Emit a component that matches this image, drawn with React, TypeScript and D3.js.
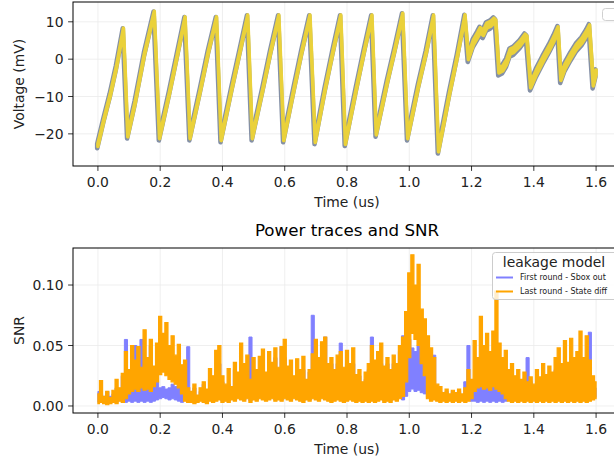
import React from 'react';
import * as d3 from 'd3';

// ---------- Top panel: voltage trace (vertices of the sawtooth) ----------
const traceTime = [
  0.000, 0.020, 0.040, 0.060, 0.082, 0.096, 0.120, 0.150, 0.181, 0.198,
  0.230, 0.255, 0.280, 0.296, 0.330, 0.355, 0.381, 0.396, 0.430, 0.455,
  0.481, 0.496, 0.530, 0.555, 0.581, 0.597, 0.630, 0.655, 0.681, 0.698,
  0.730, 0.755, 0.780, 0.795, 0.830, 0.855, 0.880, 0.894, 0.930, 0.955,
  0.979, 0.995, 1.030, 1.055, 1.078, 1.094, 1.130, 1.155, 1.179, 1.190,
  1.206, 1.220, 1.228, 1.238, 1.249, 1.262, 1.272, 1.278, 1.288, 1.300,
  1.313, 1.324, 1.336, 1.356, 1.372, 1.378, 1.390, 1.409, 1.430, 1.450,
  1.465, 1.478, 1.487, 1.500, 1.520, 1.537, 1.555, 1.570, 1.579, 1.591,
  1.600,
];
const traceVolt = [
  -23.0, -16.0, -9.5, -2.0, 8.0, -20.5, -11.5, 1.5, 12.5, -21.0,
  -9.0, 1.0, 11.0, -21.0, -8.0, 2.0, 11.0, -21.5, -8.0, 1.5,
  11.5, -21.0, -8.0, 2.0, 11.5, -21.5, -8.0, 2.0, 11.5, -22.0,
  -8.0, 2.0, 11.5, -22.5, -8.0, 2.0, 11.5, -20.0, -6.0, 3.0,
  12.0, -21.0, -7.0, 2.0, 11.5, -24.5, -9.0, 1.0, 11.5, 0.5,
  4.5, 6.5, 7.8, 7.0, 9.0, 9.5, 10.3, 9.8, -3.0, -2.5,
  -0.7, 2.0, 2.5, 4.2, 6.0, 5.5, -7.0, -3.4, 0.0, 3.0,
  5.5, 8.0, -5.0, -2.0, 1.0, 3.3, 5.0, 7.0, 8.5, -6.5,
  -3.5,
];
const traceSpread = [
  0.6, 0.5, 0.5, 0.5, 0.5, 0.5, 0.5, 0.5, 0.5, 0.5,
  0.5, 0.5, 0.5, 0.5, 0.5, 0.5, 0.5, 0.5, 0.5, 0.5,
  0.5, 0.5, 0.5, 0.5, 0.5, 0.5, 0.5, 0.5, 0.5, 0.5,
  0.5, 0.5, 0.5, 0.5, 0.5, 0.5, 0.5, 0.5, 0.5, 0.5,
  0.5, 0.5, 0.5, 0.5, 0.5, 0.5, 0.5, 0.5, 0.6, 1.0,
  1.1, 1.1, 1.1, 1.1, 1.1, 1.1, 1.1, 1.1, 1.1, 1.1,
  1.1, 1.1, 1.1, 1.1, 1.1, 1.1, 1.1, 1.1, 1.1, 1.1,
  1.1, 1.1, 1.1, 1.1, 1.1, 1.1, 1.1, 1.1, 1.1, 1.1,
  1.0,
];

const xTicks = [0, 0.2, 0.4, 0.6, 0.8, 1.0, 1.2, 1.4, 1.6];
const voltTicks = [-20, -10, 0, 10];
const snrTicks = [0, 0.05, 0.1];

// ---------- Bottom panel: SNR, per-bin min / max (bins of 0.01 us) ----------
const snrStart = 0;
const snrStep = 0.01;
const orangeMax = [
  0.010, 0.021, 0.008, 0.012, 0.007, 0.013, 0.022, 0.015, 0.027, 0.045,
  0.030, 0.050, 0.038, 0.049, 0.032, 0.063, 0.040, 0.055, 0.033, 0.052,
  0.074, 0.060, 0.069, 0.050, 0.058, 0.042, 0.051, 0.034, 0.038, 0.015,
  0.012, 0.018, 0.009, 0.015, 0.020, 0.014, 0.031, 0.025, 0.046, 0.050,
  0.025, 0.018, 0.031, 0.016, 0.036, 0.028, 0.052, 0.035, 0.042, 0.022,
  0.040, 0.030, 0.041, 0.047, 0.028, 0.045, 0.036, 0.048, 0.032, 0.049,
  0.055, 0.033, 0.038, 0.025, 0.039, 0.030, 0.041, 0.022, 0.030, 0.043,
  0.055, 0.040, 0.053, 0.057, 0.035, 0.040, 0.030, 0.042, 0.045, 0.032,
  0.046, 0.035, 0.048, 0.026, 0.030, 0.020, 0.028, 0.035, 0.050, 0.038,
  0.045, 0.052, 0.033, 0.040, 0.030, 0.042, 0.035, 0.050, 0.057, 0.078,
  0.110, 0.125, 0.100, 0.117, 0.080, 0.072, 0.058, 0.048, 0.040, 0.018,
  0.016, 0.011, 0.014, 0.010, 0.013, 0.011, 0.014, 0.010, 0.015, 0.030,
  0.022, 0.054, 0.040, 0.074, 0.050, 0.060, 0.045, 0.062, 0.095, 0.052,
  0.040, 0.046, 0.030, 0.035, 0.025, 0.030, 0.022, 0.028, 0.020, 0.024,
  0.018, 0.030, 0.024, 0.035, 0.026, 0.033, 0.028, 0.040, 0.048, 0.035,
  0.054, 0.036, 0.056, 0.040, 0.045, 0.062, 0.040, 0.058, 0.038, 0.025,
  0.020,
];
const orangeMin = [
  0.002, 0.003, 0.002, 0.001, 0.002, 0.003, 0.002, 0.004, 0.003, 0.006,
  0.010, 0.012, 0.014, 0.012, 0.015, 0.013, 0.014, 0.012, 0.016, 0.020,
  0.026, 0.028, 0.025, 0.022, 0.020, 0.018, 0.015, 0.010, 0.004, 0.003,
  0.003, 0.002, 0.003, 0.004, 0.003, 0.002, 0.004, 0.003, 0.004, 0.005,
  0.003, 0.004, 0.003, 0.005, 0.004, 0.006, 0.005, 0.004, 0.006, 0.003,
  0.005, 0.004, 0.006, 0.005, 0.004, 0.005, 0.006, 0.004, 0.005, 0.004,
  0.006, 0.005, 0.004, 0.006, 0.005, 0.004, 0.003, 0.005, 0.004, 0.006,
  0.005, 0.004, 0.006, 0.005, 0.004, 0.003, 0.004, 0.005, 0.004, 0.003,
  0.004, 0.005, 0.004, 0.003, 0.004, 0.003, 0.004, 0.003, 0.004, 0.003,
  0.004, 0.005, 0.003, 0.004, 0.003, 0.005, 0.004, 0.006, 0.008, 0.020,
  0.040, 0.060, 0.055, 0.050, 0.035, 0.025, 0.006, 0.004, 0.005, 0.004,
  0.003, 0.004, 0.003, 0.004, 0.003, 0.004, 0.003, 0.004, 0.003, 0.004,
  0.006, 0.012, 0.015, 0.016, 0.014, 0.015, 0.013, 0.016, 0.014, 0.012,
  0.010, 0.006, 0.004, 0.003, 0.004, 0.003, 0.004, 0.003, 0.004, 0.003,
  0.004, 0.003, 0.004, 0.003, 0.004, 0.003, 0.004, 0.003, 0.004, 0.003,
  0.004, 0.003, 0.004, 0.003, 0.004, 0.003, 0.004, 0.003, 0.004, 0.005,
  0.006,
];
const blueMax = [
  0.012, 0.010, 0.008, 0.012, 0.008, 0.010, 0.015, 0.012, 0.025, 0.055,
  0.025, 0.035, 0.050, 0.030, 0.055, 0.035, 0.028, 0.050, 0.030, 0.020,
  0.015, 0.016, 0.014, 0.015, 0.018, 0.016, 0.020, 0.025, 0.030, 0.049,
  0.012, 0.015, 0.008, 0.012, 0.018, 0.012, 0.022, 0.020, 0.030, 0.035,
  0.020, 0.015, 0.018, 0.014, 0.030, 0.025, 0.030, 0.028, 0.030, 0.057,
  0.030, 0.025, 0.030, 0.035, 0.025, 0.035, 0.030, 0.040, 0.028, 0.049,
  0.040, 0.030, 0.030, 0.020, 0.030, 0.025, 0.030, 0.020, 0.028, 0.075,
  0.040, 0.035, 0.045, 0.057, 0.030, 0.035, 0.028, 0.035, 0.052, 0.030,
  0.035, 0.030, 0.035, 0.022, 0.025, 0.018, 0.022, 0.030, 0.057, 0.035,
  0.030, 0.035, 0.030, 0.035, 0.028, 0.035, 0.030, 0.045, 0.058, 0.050,
  0.055, 0.048, 0.045, 0.050, 0.040, 0.038, 0.035, 0.030, 0.042, 0.015,
  0.012, 0.010, 0.012, 0.009, 0.012, 0.010, 0.012, 0.009, 0.020, 0.050,
  0.020, 0.020, 0.018, 0.020, 0.018, 0.020, 0.022, 0.020, 0.025, 0.020,
  0.018, 0.015, 0.018, 0.015, 0.018, 0.015, 0.020, 0.018, 0.040, 0.020,
  0.015, 0.018, 0.015, 0.020, 0.018, 0.020, 0.025, 0.030, 0.025, 0.030,
  0.025, 0.028, 0.030, 0.025, 0.030, 0.035, 0.030, 0.040, 0.061, 0.022,
  0.015,
];
const blueMin = [
  0.003, 0.004, 0.003, 0.002, 0.003, 0.004, 0.003, 0.005, 0.004, 0.003,
  0.004, 0.003, 0.004, 0.003, 0.004, 0.003, 0.004, 0.003, 0.004, 0.005,
  0.006, 0.007, 0.006, 0.005, 0.006, 0.005, 0.004, 0.003, 0.005, 0.004,
  0.004, 0.003, 0.004, 0.005, 0.004, 0.003, 0.005, 0.004, 0.005, 0.006,
  0.004, 0.005, 0.004, 0.006, 0.005, 0.007, 0.006, 0.005, 0.007, 0.004,
  0.006, 0.005, 0.007, 0.006, 0.005, 0.006, 0.007, 0.005, 0.006, 0.005,
  0.007, 0.006, 0.005, 0.007, 0.006, 0.005, 0.004, 0.006, 0.005, 0.007,
  0.006, 0.005, 0.007, 0.006, 0.005, 0.004, 0.005, 0.006, 0.005, 0.004,
  0.005, 0.006, 0.005, 0.004, 0.005, 0.004, 0.005, 0.004, 0.005, 0.004,
  0.005, 0.006, 0.004, 0.005, 0.004, 0.006, 0.005, 0.007, 0.005, 0.008,
  0.012, 0.014, 0.012, 0.013, 0.011, 0.010, 0.007, 0.005, 0.006, 0.005,
  0.004, 0.005, 0.004, 0.005, 0.004, 0.005, 0.004, 0.005, 0.004, 0.005,
  0.004, 0.004, 0.003, 0.004, 0.003, 0.004, 0.003, 0.004, 0.003, 0.004,
  0.003, 0.004, 0.005, 0.004, 0.005, 0.004, 0.005, 0.004, 0.005, 0.004,
  0.005, 0.004, 0.005, 0.004, 0.005, 0.004, 0.005, 0.004, 0.005, 0.004,
  0.005, 0.004, 0.005, 0.004, 0.005, 0.004, 0.005, 0.004, 0.005, 0.006,
  0.007,
];

const legendTitle = 'leakage model';
const seriesNames = ['First round - Sbox out', 'Last round - State diff'];
const seriesColors = ['#8080ff', '#ffa500'];

const FONT = 'DejaVu Sans, sans-serif';
const W = 614;
const H = 459;

const x = d3.scaleLinear().domain([-0.08, 1.68]).range([73, 621]);
const yV = d3.scaleLinear().domain([-28.6, 15.3]).range([166, 2]);
const yS = d3.scaleLinear().domain([-0.0058, 0.1306]).range([413, 248]);

const fmtX = (v: number) => v.toFixed(1);
const fmtV = (v: number) => (v < 0 ? '\u2212' + Math.abs(v) : String(v));
const fmtS = (v: number) => v.toFixed(2);

type Pt = { t: number; v: number; s: number };

function Grid({ y, top, bottom, yTicks }: any) {
  const left = 73;
  const right = 621;
  return (
    <g>
      {xTicks.map((t) => (
        <line key={'gx' + t} x1={x(t)} x2={x(t)} y1={top} y2={bottom} stroke="#ebebeb" strokeWidth={0.8} />
      ))}
      {yTicks.map((v: number) => (
        <line key={'gy' + v} x1={left} x2={right} y1={y(v)} y2={y(v)} stroke="#ebebeb" strokeWidth={0.8} />
      ))}
    </g>
  );
}

function Frame({ y, top, bottom, yTicks, fmtY, ylabel }: any) {
  const left = 73;
  const right = 621;
  return (
    <g fontFamily={FONT} fill="#000">
      <rect x={left} y={top} width={right - left} height={bottom - top} fill="none" stroke="#000" strokeWidth={1} />
      {xTicks.map((t) => (
        <g key={'tx' + t}>
          <line x1={x(t)} x2={x(t)} y1={bottom} y2={bottom + 4.9} stroke="#000" strokeWidth={0.8} />
          <text x={x(t)} y={bottom + 20.5} fontSize={13.9} textAnchor="middle" fill="#222">
            {fmtX(t)}
          </text>
        </g>
      ))}
      {yTicks.map((v: number) => (
        <g key={'ty' + v}>
          <line x1={left - 4.9} x2={left} y1={y(v)} y2={y(v)} stroke="#000" strokeWidth={0.8} />
          <text x={left - 9.5} y={y(v) + 5} fontSize={13.9} textAnchor="end" fill="#222">
            {fmtY(v)}
          </text>
        </g>
      ))}
      <text x={347} y={bottom + 41} fontSize={13.9} textAnchor="middle" fill="#222">
        Time (us)
      </text>
      <text
        transform={`translate(24,${(top + bottom) / 2}) rotate(-90)`}
        fontSize={13.9}
        textAnchor="middle"
        fill="#222"
      >
        {ylabel}
      </text>
    </g>
  );
}

export default function App() {
  const pts: Pt[] = traceTime.map((t, i) => ({ t, v: traceVolt[i], s: traceSpread[i] }));
  const bandOuter = d3
    .area<Pt>()
    .x((d) => x(d.t))
    .y0((d) => yV(d.v - d.s))
    .y1((d) => yV(d.v + d.s));
  const bandInner = d3
    .area<Pt>()
    .x((d) => x(d.t))
    .y0((d) => yV(d.v - d.s * 0.6))
    .y1((d) => yV(d.v + d.s * 0.6));

  const snrArea = (mins: number[], maxs: number[]) =>
    d3
      .area<number>()
      .curve(d3.curveStep)
      .x((_, i) => x(snrStart + i * snrStep))
      .y0((_, i) => yS(mins[i]))
      .y1((_, i) => yS(maxs[i]))(maxs) || '';

  return (
    <svg width={W} height={H} style={{ position: 'absolute', left: 0, top: 0, background: '#fff' }}>
      <rect width={W} height={H} fill="#fff" />
      {/* top panel */}
      <Grid y={yV} top={2} bottom={166} yTicks={voltTicks} />
      <path
        d={bandOuter(pts) || ''}
        fill="#6f7d97"
        stroke="#6f7d97"
        strokeWidth={4.6}
        strokeLinejoin="round"
        opacity={0.85}
        transform="translate(-0.7,0.9)"
      />
      <path d={bandInner(pts) || ''} fill="#f0d535" stroke="#f0d535" strokeWidth={3.6} strokeLinejoin="round" opacity={0.95} />
      <Frame y={yV} top={2} bottom={166} yTicks={voltTicks} fmtY={fmtV} ylabel="Voltage (mV)" />
      <rect x={602.5} y={8.5} width={20} height={12} rx={3} fill="#fff" fillOpacity={0.8} stroke="#d0d0d0" strokeWidth={1} />

      {/* bottom panel */}
      <Grid y={yS} top={248} bottom={413} yTicks={snrTicks} />
      <path d={snrArea(blueMin, blueMax)} fill={seriesColors[0]} stroke={seriesColors[0]} strokeWidth={1} />
      <path d={snrArea(orangeMin, orangeMax)} fill={seriesColors[1]} stroke={seriesColors[1]} strokeWidth={1.2} />
      <Frame y={yS} top={248} bottom={413} yTicks={snrTicks} fmtY={fmtS} ylabel="SNR" />
      <text x={347} y={236} fontFamily={FONT} fontSize={16.7} textAnchor="middle" fill="#000">
        Power traces and SNR
      </text>

      {/* legend */}
      <g fontFamily={FONT}>
        <rect x={492.5} y={252.5} width={130} height={47} rx={3} fill="#fff" fillOpacity={0.8} stroke="#cccccc" strokeWidth={1} />
        <text x={554} y={266.5} fontSize={13.9} textAnchor="middle" fill="#222">
          {legendTitle}
        </text>
        {seriesNames.map((n, i) => (
          <g key={n}>
            <line x1={496} x2={513} y1={277.5 + i * 14} y2={277.5 + i * 14} stroke={seriesColors[i]} strokeWidth={2} />
            <text x={520} y={280.3 + i * 14} fontSize={8} fill="#222">
              {n}
            </text>
          </g>
        ))}
      </g>
    </svg>
  );
}
